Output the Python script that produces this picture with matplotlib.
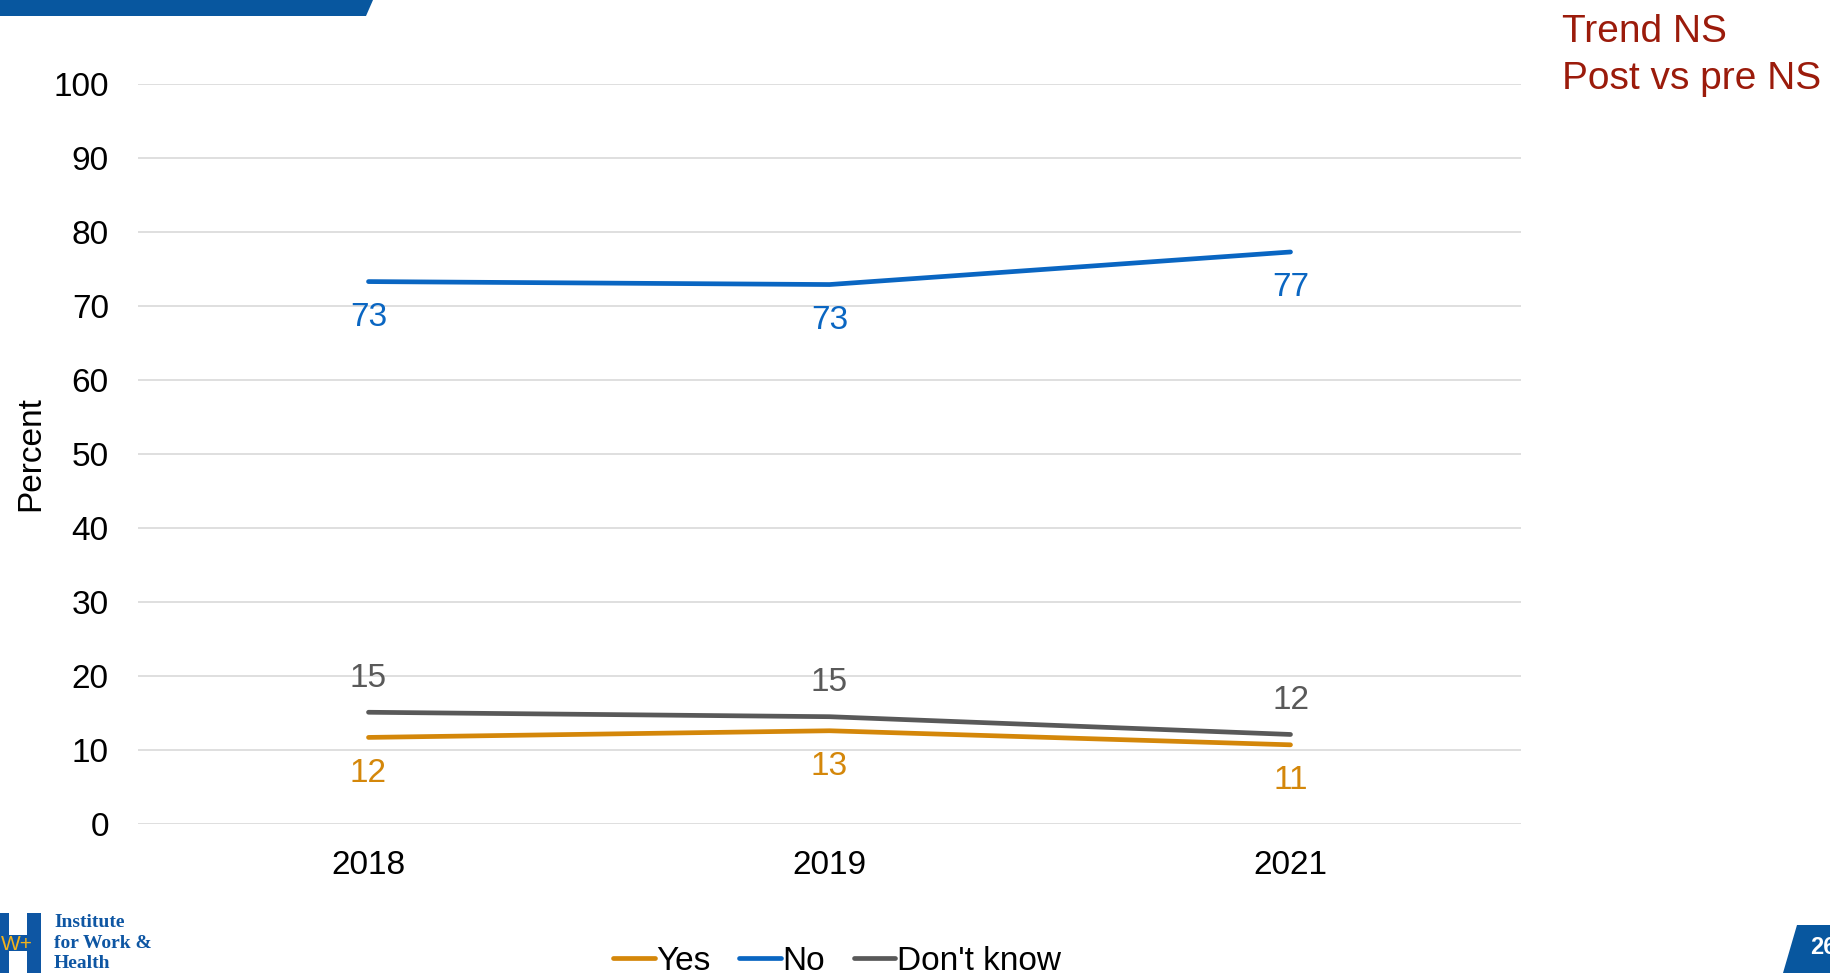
import matplotlib.pyplot as plt
from matplotlib.patches import Polygon, Rectangle

plt.rcParams["font.family"] = ["Liberation Sans", "DejaVu Sans"]

years = ["2018", "2019", "2021"]
yes_vals = [11.7, 12.6, 10.7]
no_vals = [73.3, 72.9, 77.3]
dk_vals = [15.1, 14.5, 12.1]
yes_labels = ["12", "13", "11"]
no_labels = ["73", "73", "77"]
dk_labels = ["15", "15", "12"]

c_yes = "#D4870A"
c_no = "#0A66C2"
c_dk = "#595959"
c_brand = "#08579F"

fig = plt.figure(figsize=(18.3, 9.73), dpi=100)
ax = fig.add_axes([138 / 1830, 1 - 824 / 973, 1383 / 1830, 740 / 973])

x = [0.5, 1.5, 2.5]
ax.plot(x, yes_vals, color=c_yes, lw=3.4, solid_capstyle="round", label="Yes")
ax.plot(x, no_vals, color=c_no, lw=3.4, solid_capstyle="round", label="No")
ax.plot(x, dk_vals, color=c_dk, lw=3.4, solid_capstyle="round", label="Don't know")

for xi, v, t in zip(x, no_vals, no_labels):
    ax.annotate(t, (xi, v), xytext=(0, -36), textcoords="offset pixels",
                ha="center", va="center", fontsize=24, color=c_no)
for xi, v, t in zip(x, yes_vals, yes_labels):
    ax.annotate(t, (xi, v), xytext=(0, -36), textcoords="offset pixels",
                ha="center", va="center", fontsize=24, color=c_yes)
for xi, v, t in zip(x, dk_vals, dk_labels):
    ax.annotate(t, (xi, v), xytext=(0, 34), textcoords="offset pixels",
                ha="center", va="center", fontsize=24, color=c_dk)

ax.set_xlim(0, 3)
ax.set_ylim(0, 100)
ax.set_yticks(range(0, 101, 10))
ax.set_xticks(x)
ax.set_xticklabels(years)
ax.tick_params(axis="both", length=0, labelsize=24)
ax.tick_params(axis="x", pad=19)
ax.tick_params(axis="y", pad=21)
ax.grid(axis="y", color="#D9D9D9", lw=1.2)
ax.set_axisbelow(True)
for s in ax.spines.values():
    s.set_visible(False)
ax.set_ylabel("Percent", fontsize=24)
ax.yaxis.set_label_coords(-92 / 1383, 0.5)

ax.legend(loc="center", bbox_to_anchor=(837 / 1830, 1 - 961 / 973),
          bbox_transform=fig.transFigure, ncol=3, frameon=False,
          fontsize=24, handlelength=1.25, handletextpad=0.05,
          columnspacing=0.85)

# blue header strip, top left
fig.patches.append(Polygon([[0, 973], [373, 973], [366, 957], [0, 957]],
                           closed=True, transform=None, facecolor=c_brand,
                           edgecolor="none"))

# page number tab, bottom right
fig.patches.append(Polygon([[1797, 48], [1830, 48], [1830, 0], [1783, 0]],
                           closed=True, transform=None, facecolor=c_brand,
                           edgecolor="none"))
fig.text(1810 / 1830, 1 - 947 / 973, "26", color="white", fontsize=17,
         fontweight="bold", ha="left", va="center")

fig.text(1562 / 1830, 1 - 32 / 973, "Trend NS", color="#9B1B0B",
         fontsize=28, ha="left", va="center")
fig.text(1562 / 1830, 1 - 79 / 973, "Post vs pre NS", color="#9B1B0B",
         fontsize=28, ha="left", va="center")

# logo block, bottom left
fig.patches.append(Rectangle((0, 0), 41, 60, transform=None,
                             facecolor="#0E56A3", edgecolor="none"))
fig.patches.append(Rectangle((9, 0), 18, 22, transform=None,
                             facecolor="white", edgecolor="none"))
fig.patches.append(Rectangle((9, 38), 18, 22, transform=None,
                             facecolor="white", edgecolor="none"))
fig.text(1 / 1830, 1 - 944 / 973, "W+", color="#F2B21A", fontsize=15,
         ha="left", va="center")
fig.text(54 / 1830, 1 - 943 / 973, "Institute\nfor Work &\nHealth",
         color="#0E56A3", fontsize=14, family=["Liberation Serif", "DejaVu Serif"],
         fontweight="bold", ha="left", va="center", linespacing=1.25)

fig.savefig("out.png", dpi=100)
